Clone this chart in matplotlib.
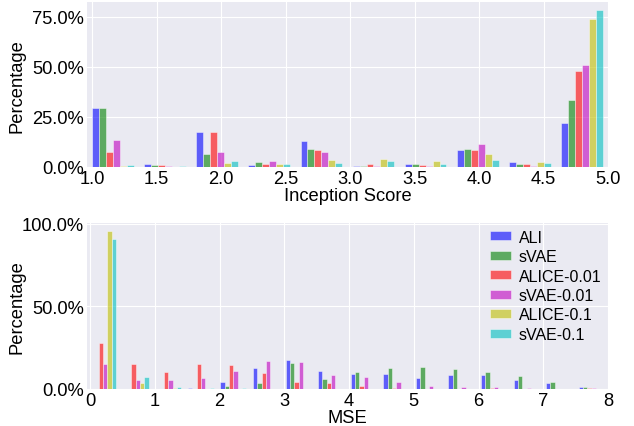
import numpy as np
import matplotlib
matplotlib.use("Agg")
import matplotlib.pyplot as plt
from matplotlib.ticker import PercentFormatter

# series names and colours
labels = ['ALI', 'sVAE', 'ALICE-0.01', 'sVAE-0.01', 'ALICE-0.1', 'sVAE-0.1']
colors = ['b', 'g', 'r', 'm', 'y', 'c']

# Inception score histogram (percent per bin), 10 bins between 0.96 and 5.0
is_ali = [29.2, 1.5, 17.2, 0.8, 12.8, 0.3, 1.6, 8.6, 2.4, 21.9]
is_svae = [29.3, 0.8, 6.6, 2.5, 9.1, 0.6, 1.6, 8.7, 1.6, 33.6]
is_alice_001 = [7.3, 0.8, 17.2, 1.2, 8.3, 1.5, 0.9, 8.6, 1.6, 48.1]
is_svae_001 = [13.4, 0.6, 7.5, 2.8, 7.5, 0.3, 0.6, 11.2, 0.2, 51.1]
is_alice_01 = [0.3, 0.1, 1.8, 1.5, 3.5, 4.0, 2.7, 6.2, 2.6, 73.9]
is_svae_01 = [1.0, 0.5, 3.0, 1.4, 2.0, 3.0, 1.3, 3.4, 1.9, 78.2]

# MSE histogram (percent per bin), 16 bins between -0.05 and 8.0
mse_ali = [0.1, 0.2, 0.1, 0.7, 3.9, 12.4, 17.3, 10.7, 8.8, 8.8, 6.5, 8.2, 8.6, 5.5, 3.3, 1.0]
mse_svae = [0.0, 0.0, 0.0, 0.0, 1.5, 3.7, 15.9, 5.8, 10.2, 12.6, 13.0, 12.0, 10.5, 7.6, 4.4, 1.0]
mse_alice_001 = [27.7, 14.8, 10.0, 14.8, 14.2, 9.8, 4.4, 3.3, 1.5, 0.5, 0.2, 0.2, 0.8, 0.2, 0.2, 0.3]
mse_svae_001 = [14.9, 5.5, 5.5, 6.4, 10.6, 16.7, 16.1, 8.6, 7.2, 3.9, 1.5, 1.2, 1.2, 0.6, 0.2, 0.3]
mse_alice_01 = [95.5, 3.3, 0.5, 0.0, 0.0, 0.0, 0.0, 0.0, 0.0, 0.0, 0.0, 0.0, 0.0, 0.0, 0.0, 0.0]
mse_svae_01 = [90.5, 7.2, 1.2, 0.8, 0.3, 0.0, 0.0, 0.0, 0.0, 0.0, 0.0, 0.0, 0.0, 0.0, 0.0, 0.0]

is_series = [is_ali, is_svae, is_alice_001, is_svae_001, is_alice_01, is_svae_01]
mse_series = [mse_ali, mse_svae, mse_alice_001, mse_svae_001, mse_alice_01, mse_svae_01]

plt.rcParams['font.family'] = ['Liberation Sans', 'DejaVu Sans']
plt.rcParams['font.size'] = 13.2


def grouped_hist(ax, edges, series):
    # bars laid out like plt.hist with several datasets (80% of each bin)
    edges = np.asarray(edges)
    binw = np.diff(edges)
    n = len(series)
    w = 0.8 * binw / n
    start = edges[:-1] + 0.1 * binw
    for i, vals in enumerate(series):
        ax.bar(start + i * w, vals, width=w, align='edge', color=colors[i], alpha=0.6,
               edgecolor='white', linewidth=0.5, label=labels[i])
    ax.set_xlim(edges[0], edges[-1])
    ax.set_facecolor('#EAEAF2')
    ax.grid(True, color='white', linewidth=0.8)
    ax.set_axisbelow(True)
    for s in ax.spines.values():
        s.set_visible(False)
    ax.tick_params(length=0, pad=2)
    ax.yaxis.set_major_formatter(PercentFormatter(100, decimals=1))
    ax.set_ylabel('Percentage')
    ax.yaxis.set_label_coords(-0.117, 0.5)


fig = plt.figure(figsize=(6.34, 4.27), dpi=100)
ax1 = fig.add_axes([0.137, 0.607, 0.822, 0.385])
ax2 = fig.add_axes([0.137, 0.087, 0.822, 0.388])

grouped_hist(ax1, np.linspace(0.96, 5.0, 11), is_series)
ax1.set_xticks(np.arange(1.0, 5.01, 0.5))
ax1.set_yticks([0, 25, 50, 75])
ax1.set_xlabel('Inception Score', labelpad=0)

grouped_hist(ax2, np.linspace(-0.05, 8.0, 17), mse_series)
ax2.set_xticks(range(0, 9))
ax2.set_yticks([0, 50, 100])
ax2.set_xlabel('MSE', labelpad=0)
ax2.legend(loc='upper right', frameon=False, fontsize=11.5, handlelength=1.3,
           handleheight=0.5, labelspacing=0.28, handletextpad=0.5,
           borderaxespad=0.0)

fig.savefig('out.png', dpi=100)
